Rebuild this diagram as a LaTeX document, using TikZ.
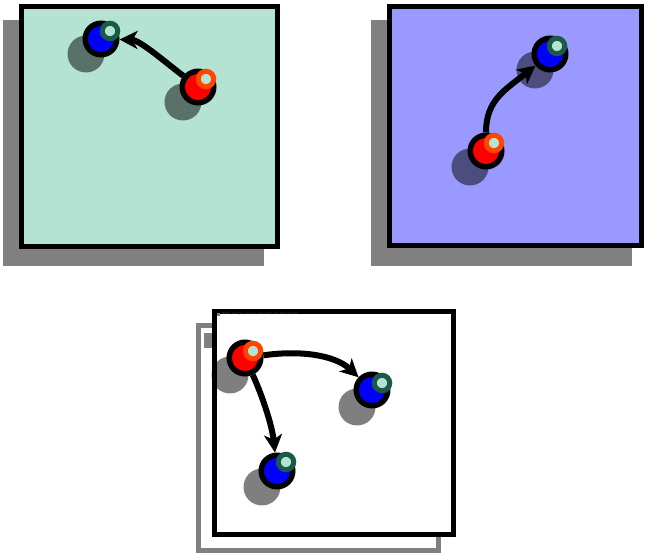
\documentclass[tikz,border=0pt]{standalone}
\usetikzlibrary{arrows.meta}
\definecolor{mint}{HTML}{B5E3D3}
\definecolor{lavender}{HTML}{9999FF}
\definecolor{orangered}{HTML}{FF4500}
\definecolor{darkteal}{HTML}{1A5A4A}
\definecolor{shadowgray}{HTML}{808080}
\begin{document}
\begin{tikzpicture}[x=1pt,y=-1pt,
  panel/.style={draw=black, line width=5pt},
  boxshadow/.style={fill=shadowgray, draw=none},
  ball/.style={circle, draw=black, line width=5.5pt, minimum size=31.5pt, inner sep=0pt, outer sep=2.75pt},
  redball/.style={ball, fill=red},
  blueball/.style={ball, fill=blue},
  shade/.style={circle, fill=black, fill opacity=0.5, draw=none, minimum size=37pt, inner sep=0pt},
  hlred/.style={circle, draw=orangered, fill=mint, line width=5pt, minimum size=15.5pt, inner sep=0pt},
  hlblue/.style={circle, draw=darkteal, fill=mint, line width=5pt, minimum size=15.5pt, inner sep=0pt},
  link/.style={line width=6pt, -{Stealth[length=18pt,width=18pt,inset=5pt]}},
  tinytext/.style={font=\fontsize{3}{3}\selectfont, text=black!70, inner sep=0pt, anchor=west}
]
\useasboundingbox (0,0) rectangle (646,553);

% ---------- panel 1 ----------
\fill[boxshadow] (3,20) rectangle (264,266);
\draw[panel, fill=mint] (21.5,6.5) rectangle (277.5,246.5);
\node[shade] (r1s) at (183,102) {};
\node[shade] (b1s) at (86,54) {};
\node[redball] (r1) at (198,87) {};
\node[blueball] (b1) at (101,39) {};
\draw[link] (r1) .. controls (165,62) and (140,40) .. (b1);
\node[hlred] (r1h) at (206,79) {};
\node[hlblue] (b1h) at (110,31) {};

% ---------- panel 2 ----------
\fill[boxshadow] (371,20) rectangle (632,266);
\draw[panel, fill=lavender] (389.5,6.5) rectangle (641.5,245.5);
\node[shade] (r2s) at (470,167) {};
\node[shade] (b2s) at (535,70) {};
\node[redball] (r2) at (486,151) {};
\node[blueball] (b2) at (550,54) {};
\draw[link] (r2) .. controls (486,100) and (505,90) .. (b2);
\node[hlred] (r2h) at (494,143) {};
\node[hlblue] (b2h) at (557,46) {};

% ---------- panel 3 ----------
\draw[draw=shadowgray, line width=5pt, fill=white] (198.5,325.5) rectangle (438.5,550.5);
\fill[shadowgray] (204,333) rectangle (212,348);
\draw[panel, fill=white] (214.5,311.5) rectangle (453.5,534.5);
\node[draw=gray, fill=red!70, minimum size=2.5pt, inner sep=0pt] (icon) at (218,314) {};
\node[tinytext] (msg) at (222,314) {This image cannot currently be displayed.};
\node[shade] (r3s) at (230,375) {};
\node[shade] (b3s) at (357,407) {};
\node[shade] (b4s) at (262,487) {};
\node[redball] (r3) at (245,358) {};
\node[blueball] (b3) at (372,390) {};
\node[blueball] (b4) at (277,471) {};
\draw[link] (r3) .. controls (300,350) and (335,355) .. (b3);
\draw[link] (r3) .. controls (262,395) and (272,425) .. (b4);
\node[hlred] (r3h) at (253,351) {};
\node[hlblue] (b3h) at (382,383) {};
\node[hlblue] (b4h) at (286,462) {};
\end{tikzpicture}
\end{document}
